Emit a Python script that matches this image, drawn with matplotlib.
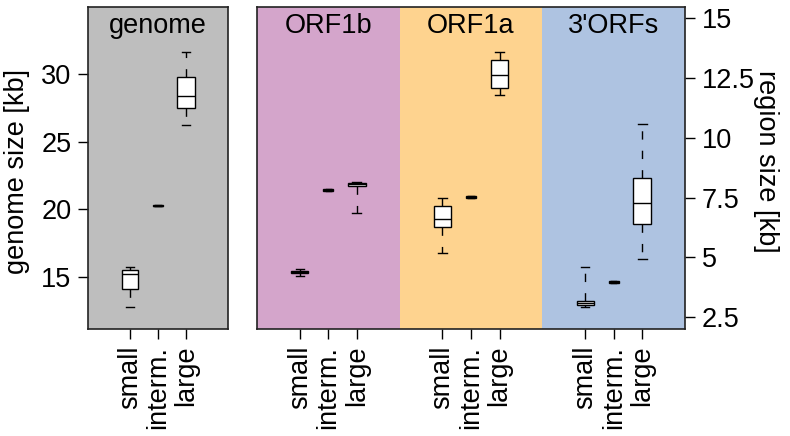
import matplotlib
matplotlib.use("Agg")
import matplotlib.pyplot as plt

plt.rcParams['font.family'] = ['Liberation Sans', 'DejaVu Sans']

# box stats: whisker low, q1, median, q3, whisker high  (kb)
size_classes = ["small", "interm.", "large"]
box_widths = [0.6, 0.36, 0.62]

genome_lo  = [12.8, 20.22, 26.2]
genome_q1  = [14.1, 20.22, 27.5]
genome_med = [15.2, 20.27, 28.4]
genome_q3  = [15.5, 20.32, 29.8]
genome_hi  = [15.7, 20.32, 31.6]

regions = ["ORF1b", "ORF1a", "3'ORFs"]
region_colors = ["#d4a5cb", "#fed38f", "#aec3e1"]
region_lo  = [[4.22, 7.79, 6.85], [5.17, 7.50, 11.78], [2.91, 3.91, 4.92]]
region_q1  = [[4.33, 7.79, 7.98], [6.28, 7.50, 12.10], [3.00, 3.91, 6.39]]
region_med = [[4.37, 7.82, 8.05], [6.59, 7.54, 12.64], [3.10, 3.95, 7.26]]
region_q3  = [[4.41, 7.85, 8.10], [7.16, 7.58, 13.26], [3.17, 3.99, 8.31]]
region_hi  = [[4.50, 7.85, 8.14], [7.48, 7.58, 13.60], [4.61, 3.99, 10.58]]

genome_ticks = [15, 20, 25, 30]
region_ticks = [2.5, 5, 7.5, 10, 12.5, 15]
region_ticklabels = ["2.5", "5", "7.5", "10", "12.5", "15"]

FS = 19.5


def make_stats(lo, q1, med, q3, hi):
    return [dict(whislo=a, q1=b, med=c, q3=d, whishi=e, fliers=[])
            for a, b, c, d, e in zip(lo, q1, med, q3, hi)]


def draw_boxes(ax, stats, positions, widths):
    ax.bxp(stats, positions=positions, widths=widths,
           capwidths=[w / 2 for w in widths],
           showfliers=False, patch_artist=True,
           boxprops=dict(facecolor="white", edgecolor="black", linewidth=1),
           whiskerprops=dict(color="black", linewidth=1, linestyle=(0, (6, 8))),
           capprops=dict(color="black", linewidth=1),
           medianprops=dict(color="black", linewidth=1))


fig = plt.figure(figsize=(7.9, 4.36), dpi=100)
ax1 = fig.add_axes([88 / 790, 107 / 436, 140 / 790, 322 / 436])
ax2 = fig.add_axes([257 / 790, 107 / 436, 428 / 790, 322 / 436])

# genome panel
ax1.set_facecolor("#bebebe")
pos = [1, 2, 3]
draw_boxes(ax1, make_stats(genome_lo, genome_q1, genome_med, genome_q3, genome_hi), pos, box_widths)
ax1.set_xlim(-0.5, 4.5)
ax1.set_ylim(11.15, 34.95)
ax1.set_xticks(pos)
ax1.set_xticklabels(size_classes, rotation=90, fontsize=FS)
ax1.set_yticks(genome_ticks)
ax1.set_yticklabels([str(t) for t in genome_ticks], fontsize=FS)
ax1.text(2, 0.919, "genome", transform=ax1.get_xaxis_transform(),
         ha="center", va="baseline", fontsize=FS)
ax1.set_ylabel("genome size [kb]", fontsize=FS, va="center")
ax1.yaxis.set_label_coords(-0.51, 0.49)

# region panel
all_pos = []
for i, name in enumerate(regions):
    off = 5 * i
    ax2.axvspan(off - 0.5, off + 4.5, color=region_colors[i], zorder=0, lw=0)
    p = [off + 1, off + 2, off + 3]
    all_pos += p
    draw_boxes(ax2, make_stats(region_lo[i], region_q1[i], region_med[i], region_q3[i], region_hi[i]),
               p, box_widths)
    ax2.text(off + 2, 0.919, name, transform=ax2.get_xaxis_transform(),
             ha="center", va="baseline", fontsize=FS)
ax2.set_xlim(-0.5, 14.5)
ax2.set_ylim(2.0, 15.47)
ax2.set_xticks(all_pos)
ax2.set_xticklabels(size_classes * 3, rotation=90, fontsize=FS)
ax2.yaxis.tick_right()
ax2.set_yticks(region_ticks)
ax2.set_yticklabels(region_ticklabels, fontsize=FS)
ax2.yaxis.set_label_position("right")
ax2.set_ylabel("region size [kb]", fontsize=FS, rotation=270, va="center")
ax2.yaxis.set_label_coords(1.19, 0.52)

for ax in (ax1, ax2):
    ax.tick_params(direction="out", length=7, width=1, pad=5, colors="black")
    for s in ax.spines.values():
        s.set_linewidth(1.2)
        s.set_color("#222222")

fig.savefig("out.png", dpi=100)
